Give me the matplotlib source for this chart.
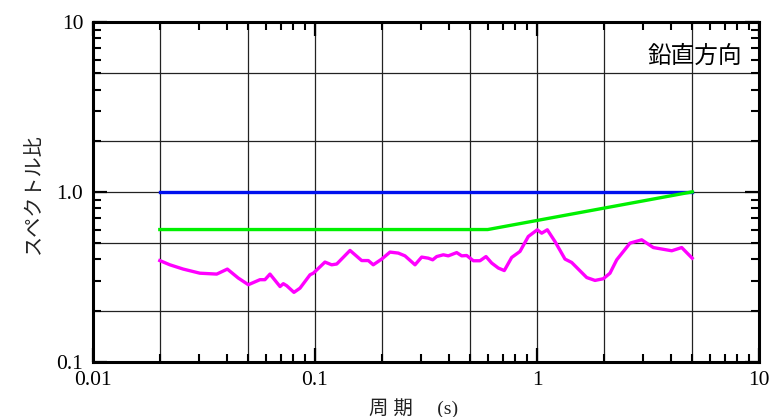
import matplotlib
matplotlib.use("Agg")
import matplotlib.pyplot as plt
from matplotlib.ticker import LogLocator, FixedLocator, FixedFormatter, NullFormatter

# ---- data ----
blue_x = [0.02, 5.0]
blue_y = [1.0, 1.0]

green_x = [0.02, 0.6, 5.0]
green_y = [0.6, 0.6, 1.0]

mag_x = [0.02, 0.0222, 0.0255, 0.0303, 0.0361, 0.0403, 0.0451, 0.0501, 0.0565,
         0.0595, 0.0627, 0.0696, 0.0720, 0.0746, 0.0804, 0.0856, 0.0950, 0.0983,
         0.1109, 0.1189, 0.1253, 0.1438, 0.1623, 0.1739, 0.1830, 0.1998, 0.2177,
         0.2373, 0.2543, 0.2822, 0.3024, 0.3239, 0.3390, 0.3534, 0.3785, 0.3986,
         0.4348, 0.4580, 0.4824, 0.5166, 0.5537, 0.5893, 0.6251, 0.6696, 0.7124,
         0.7691, 0.8385, 0.9137, 1.003, 1.050, 1.113, 1.205, 1.337, 1.433, 1.675,
         1.825, 1.989, 2.132, 2.286, 2.624, 2.962, 3.342, 4.045, 4.486, 5.0]
mag_y = [0.394, 0.372, 0.351, 0.332, 0.328, 0.351, 0.311, 0.284, 0.304,
         0.304, 0.328, 0.277, 0.288, 0.280, 0.256, 0.271, 0.325, 0.332,
         0.386, 0.372, 0.376, 0.452, 0.394, 0.394, 0.372, 0.402, 0.442,
         0.436, 0.420, 0.372, 0.413, 0.407, 0.398, 0.416, 0.426, 0.420,
         0.439, 0.420, 0.422, 0.393, 0.393, 0.416, 0.381, 0.356, 0.344,
         0.411, 0.446, 0.546, 0.598, 0.571, 0.598, 0.510, 0.402, 0.384, 0.313,
         0.301, 0.308, 0.332, 0.398, 0.499, 0.522, 0.470, 0.450, 0.470, 0.407]

grid_x = [0.02, 0.05, 0.1, 0.2, 0.5, 1, 2, 5]
grid_y = [0.2, 0.5, 1, 2, 5]

xticks = [0.01, 0.1, 1, 10]
xtick_labels = ["0.01", "0.1", "1", "10"]
yticks = [0.1, 1, 10]
ytick_labels = ["0.1", "1.0", "10"]

xlabel = "周 期　 (s)"
ylabel = "スペクトル比"
title_text = "鉛直方向"

# ---- figure ----
fig = plt.figure(figsize=(7.69, 4.17), dpi=100)
ax = fig.add_axes([0.1209, 0.1326, 0.8661, 0.8146])
ax.set_xscale("log")
ax.set_yscale("log")
ax.set_xlim(0.01, 10)
ax.set_ylim(0.1, 10)

for v in grid_x:
    ax.axvline(v, color="#222222", lw=0.9, zorder=1)
for v in grid_y:
    ax.axhline(v, color="#222222", lw=0.9, zorder=1)

ax.plot(blue_x, blue_y, color="#0010ee", lw=2.4, zorder=3)
ax.plot(green_x, green_y, color="#00f000", lw=2.4, zorder=3)
ax.plot(mag_x, mag_y, color="#ff00ff", lw=2.4, zorder=3)

serif = ["Liberation Serif", "Noto Sans CJK JP"]

ax.xaxis.set_major_locator(FixedLocator(xticks))
ax.xaxis.set_major_formatter(FixedFormatter(xtick_labels))
ax.yaxis.set_major_locator(FixedLocator(yticks))
ax.yaxis.set_major_formatter(FixedFormatter(ytick_labels))
ax.xaxis.set_minor_locator(LogLocator(base=10, subs=range(2, 10)))
ax.yaxis.set_minor_locator(LogLocator(base=10, subs=range(2, 10)))
ax.xaxis.set_minor_formatter(NullFormatter())
ax.yaxis.set_minor_formatter(NullFormatter())

ax.tick_params(which="both", direction="in", top=True, right=True, color="black")
ax.tick_params(which="major", length=10, width=1.6, pad=7)
ax.tick_params(which="minor", length=5.8, width=1.5)
for lab in ax.get_xticklabels() + ax.get_yticklabels():
    lab.set_family(serif)
    lab.set_fontsize(15.5)

for s in ax.spines.values():
    s.set_linewidth(2.2)
    s.set_zorder(5)

ax.set_xlabel(xlabel, family=serif, fontsize=14, color="#222222")
ax.xaxis.set_label_coords(0.482, -0.106)
ax.set_ylabel(ylabel, family=serif, fontsize=14.5, color="#222222")
ax.yaxis.set_label_coords((44 - 93) / 666, (361.7 - 193) / 340)

ax.text(0.975, 0.9, title_text, transform=ax.transAxes, ha="right", va="center",
        family=["Noto Sans CJK JP", "DejaVu Sans"], fontsize=17, zorder=6)

fig.savefig("out.png", dpi=100)
